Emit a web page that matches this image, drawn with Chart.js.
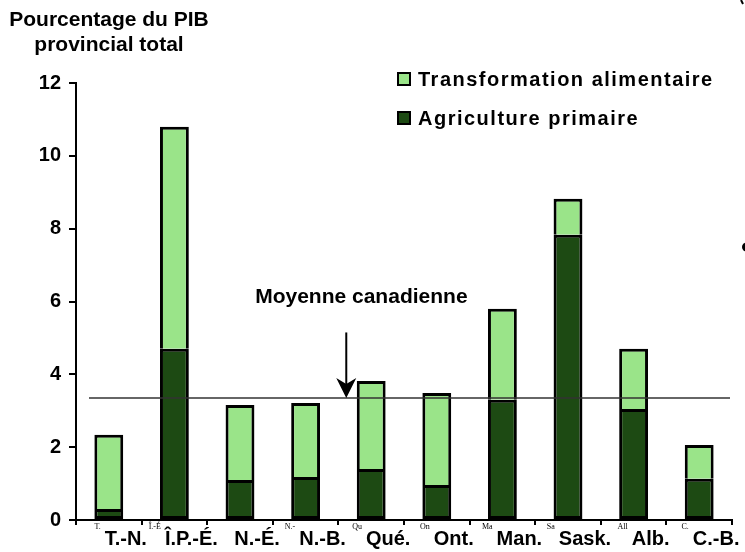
<!DOCTYPE html>
<html>
<head>
<meta charset="utf-8">
<script src="https://cdn.jsdelivr.net/npm/chart.js@4"></script>
<style>
  html, body { margin: 0; padding: 0; background: #fff; }
  #wrap { width: 745px; height: 552px; }
</style>
</head>
<body>
<div id="wrap"><canvas id="chart" width="745" height="552"></canvas></div>
<script>
const categories = ['T.-N.', 'Î.P.-É.', 'N.-É.', 'N.-B.', 'Qué.', 'Ont.', 'Man.', 'Sask.', 'Alb.', 'C.-B.'];
// tiny leftover labels printed in front of each province name
const tinyPrefixes = ['T.', 'Î.-É', '', 'N.-', 'Qu', 'On', 'Ma', 'Sa', 'All', 'C.'];
const agriculture = [0.30, 4.70, 1.10, 1.18, 1.40, 0.96, 3.30, 7.83, 3.05, 1.13];
const transformation = [2.04, 6.10, 2.06, 2.03, 2.42, 2.53, 2.50, 0.99, 1.65, 0.93];
const canadianAverage = 3.35;
const yMax = 12;
const yStep = 2;
const titleLines = ['Pourcentage du PIB', 'provincial total'];
const averageLabel = 'Moyenne canadienne';

const FONT = '"Liberation Sans", Arial, sans-serif';
const LIGHT = '#9ae489';
const DARK = '#1d4a13';

const overlay = {
  id: 'overlay',
  afterDraw(chart) {
    const ctx = chart.ctx;
    const x = chart.scales.x, y = chart.scales.y;
    ctx.save();

    // title
    ctx.fillStyle = '#000';
    ctx.font = 'bold 21px ' + FONT;
    ctx.textAlign = 'center';
    ctx.textBaseline = 'alphabetic';
    ctx.fillText(titleLines[0], 109, 26);
    ctx.fillText(titleLines[1], 109, 51);

    // legend
    const items = [chart.data.datasets[1], chart.data.datasets[0]];
    ctx.textAlign = 'left';
    ctx.font = 'bold 20px ' + FONT;
    ctx.letterSpacing = '1.5px';
    items.forEach((ds, i) => {
      const top = 73 + i * 39;
      ctx.fillStyle = ds.backgroundColor;
      ctx.fillRect(398, top, 12, 12);
      ctx.lineWidth = 2;
      ctx.strokeStyle = '#000';
      ctx.strokeRect(398, top, 12, 12);
      ctx.fillStyle = '#000';
      ctx.fillText(ds.label, 418, top + 13);
    });
    ctx.letterSpacing = '0px';

    // canadian average line
    const yAvg = y.getPixelForValue(canadianAverage);
    ctx.strokeStyle = '#333';
    ctx.lineWidth = 1.5;
    ctx.beginPath();
    ctx.moveTo(x.left + 13, yAvg);
    ctx.lineTo(x.right - 2, yAvg);
    ctx.stroke();

    // arrow
    const ax = x.getPixelForValue(3.62);
    ctx.strokeStyle = '#000';
    ctx.lineWidth = 2;
    ctx.beginPath();
    ctx.moveTo(ax, y.getPixelForValue(5.15));
    ctx.lineTo(ax, yAvg - 10);
    ctx.stroke();
    ctx.fillStyle = '#000';
    ctx.beginPath();
    ctx.moveTo(ax, yAvg);
    ctx.lineTo(ax - 10, yAvg - 20);
    ctx.lineTo(ax, yAvg - 14);
    ctx.lineTo(ax + 10, yAvg - 20);
    ctx.closePath();
    ctx.fill();

    ctx.font = 'bold 21px ' + FONT;
    ctx.textAlign = 'center';
    ctx.fillText(averageLabel, x.getPixelForValue(3.85), y.getPixelForValue(5.95));

    // tiny prefixes before the x labels
    ctx.font = '8px "Liberation Serif", "Times New Roman", serif';
    ctx.textAlign = 'right';
    const labelFont = 'bold 20px ' + FONT;
    categories.forEach((c, i) => {
      if (!tinyPrefixes[i]) return;
      ctx.save();
      ctx.font = labelFont;
      const w = ctx.measureText(c).width;
      ctx.restore();
      const cx = x.getPixelForValue(i) + 17;
      ctx.fillText(tinyPrefixes[i], cx - w / 2 - 4, 529);
    });

    // cut-off marks at the right edge
    ctx.beginPath();
    ctx.arc(746.5, 247, 4.5, 0, Math.PI * 2);
    ctx.fill();
    ctx.lineWidth = 2;
    ctx.beginPath();
    ctx.moveTo(741, 0);
    ctx.lineTo(743, 4);
    ctx.stroke();

    ctx.restore();
  }
};

new Chart(document.getElementById('chart'), {
  type: 'bar',
  data: {
    labels: categories,
    datasets: [
      {
        label: 'Agriculture primaire',
        data: agriculture,
        backgroundColor: DARK,
        borderColor: '#000',
        borderWidth: { top: 3, right: 3, bottom: 3, left: 3 },
        borderSkipped: false
      },
      {
        label: 'Transformation alimentaire',
        data: transformation,
        backgroundColor: LIGHT,
        borderColor: '#000',
        borderWidth: { top: 3, right: 3, bottom: 0, left: 3 },
        borderSkipped: false
      }
    ]
  },
  options: {
    responsive: false,
    animation: false,
    devicePixelRatio: 1,
    layout: { padding: { top: 83, right: 13, left: 0, bottom: 0 } },
    plugins: {
      legend: { display: false },
      tooltip: { enabled: false }
    },
    datasets: {
      bar: { categoryPercentage: 1, barPercentage: 0.44 }
    },
    scales: {
      x: {
        stacked: true,
        grid: { drawOnChartArea: false, tickLength: 5, color: '#000', lineWidth: 2, offset: true },
        border: { color: '#000', width: 2 },
        ticks: {
          color: '#000',
          font: { family: FONT, size: 20, weight: 'bold' },
          maxRotation: 0,
          autoSkip: false,
          labelOffset: 17,
          padding: 2
        },
        afterFit(scale) { scale.height = 32; }
      },
      y: {
        stacked: true,
        min: 0,
        max: yMax,
        grid: { drawOnChartArea: false, tickLength: 7, color: '#000', lineWidth: 2 },
        border: { color: '#000', width: 2 },
        ticks: {
          stepSize: yStep,
          color: '#000',
          font: { family: FONT, size: 20, weight: 'bold' },
          padding: 8
        },
        afterFit(scale) { scale.width = 76; }
      }
    }
  },
  plugins: [overlay]
});
</script>
</body>
</html>
